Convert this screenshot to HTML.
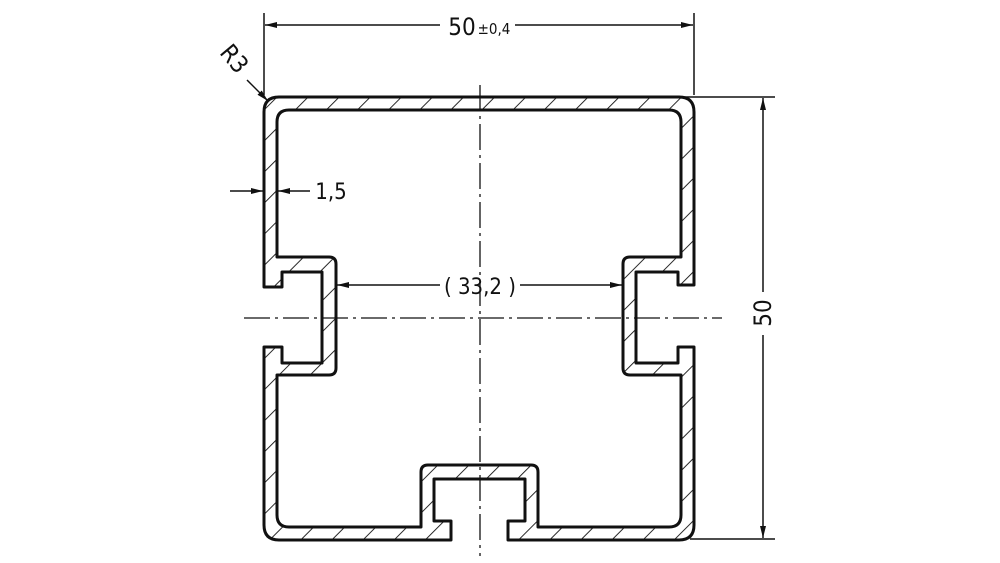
<!DOCTYPE html>
<html><head><meta charset="utf-8"><style>
html,body{margin:0;padding:0;background:#fff;}
svg{display:block;}
text{font-family:"DejaVu Sans Condensed","Liberation Sans",sans-serif;fill:#111;}
</style></head><body>
<svg width="1000" height="563" viewBox="0 0 1000 563" xmlns="http://www.w3.org/2000/svg">
<defs>
<pattern id="h" patternUnits="userSpaceOnUse" width="22" height="22" patternTransform="rotate(45)">
<line x1="0" y1="0" x2="0" y2="22" stroke="#111" stroke-width="1.8"/>
</pattern>
<marker id="a" viewBox="0 0 12 6" refX="12" refY="3" markerWidth="12" markerHeight="6" markerUnits="userSpaceOnUse" orient="auto">
<path d="M0,0 L12,3 L0,6 Z" fill="#111"/>
</marker>
</defs>
<path fill="url(#h)" fill-rule="evenodd" stroke="#111" stroke-width="3" stroke-linejoin="round" d="
M264,112 Q264,97 279,97 L679,97 Q694,97 694,112 L694,285 L678,285 L678,272 L636,272 L636,363 L678,363 L678,347 L694,347 L694,525 Q694,540 679,540 L508,540 L508,521 L525,521 L525,479 L434,479 L434,521 L451,521 L451,540 L279,540 Q264,540 264,525 L264,347 L282,347 L282,363 L322,363 L322,272 L282,272 L282,287 L264,287 Z
M277,122 Q277,110 289,110 L669,110 Q681,110 681,122 L681,257 L630,257 Q623,257 623,264 L623,368 Q623,375 630,375 L681,375 L681,515 Q681,527 669,527 L538,527 L538,472 Q538,465 531,465 L428,465 Q421,465 421,472 L421,527 L289,527 Q277,527 277,515 L277,375 L329,375 Q336,375 336,368 L336,264 Q336,257 329,257 L277,257 Z"/>
<line x1="480" y1="85" x2="480" y2="556" stroke="#111" stroke-width="1.3" stroke-dasharray="26,5,3,5"/>
<line x1="244" y1="318" x2="722" y2="318" stroke="#111" stroke-width="1.3" stroke-dasharray="26,5,3,5"/>
<g stroke="#111" stroke-width="1.5">
<line x1="264" y1="13" x2="264" y2="95"/>
<line x1="694" y1="13" x2="694" y2="95"/>
<line x1="440" y1="25" x2="265" y2="25" marker-end="url(#a)"/>
<line x1="515" y1="25" x2="693" y2="25" marker-end="url(#a)"/>
<line x1="680" y1="97" x2="775" y2="97"/>
<line x1="690" y1="539" x2="775" y2="539"/>
<line x1="763" y1="292" x2="763" y2="98" marker-end="url(#a)"/>
<line x1="763" y1="335" x2="763" y2="538" marker-end="url(#a)"/>
<line x1="230" y1="191" x2="263" y2="191" marker-end="url(#a)"/>
<line x1="310" y1="191" x2="278" y2="191" marker-end="url(#a)"/>
<line x1="440" y1="285" x2="337" y2="285" marker-end="url(#a)"/>
<line x1="520" y1="285" x2="622" y2="285" marker-end="url(#a)"/>
<line x1="247" y1="80" x2="268" y2="101" marker-end="url(#a)"/>
</g>
<text x="462" y="35" font-size="24" text-anchor="middle">50</text>
<text x="494" y="34" font-size="15" text-anchor="middle">±0,4</text>
<text x="331" y="199" font-size="22" text-anchor="middle">1,5</text>
<text x="480" y="294" font-size="22" text-anchor="middle">( 33,2 )</text>
<text transform="translate(771,313) rotate(-90)" font-size="24" text-anchor="middle">50</text>
<text transform="translate(228,64) rotate(50)" font-size="24" text-anchor="middle">R3</text>
</svg>
</body></html>
